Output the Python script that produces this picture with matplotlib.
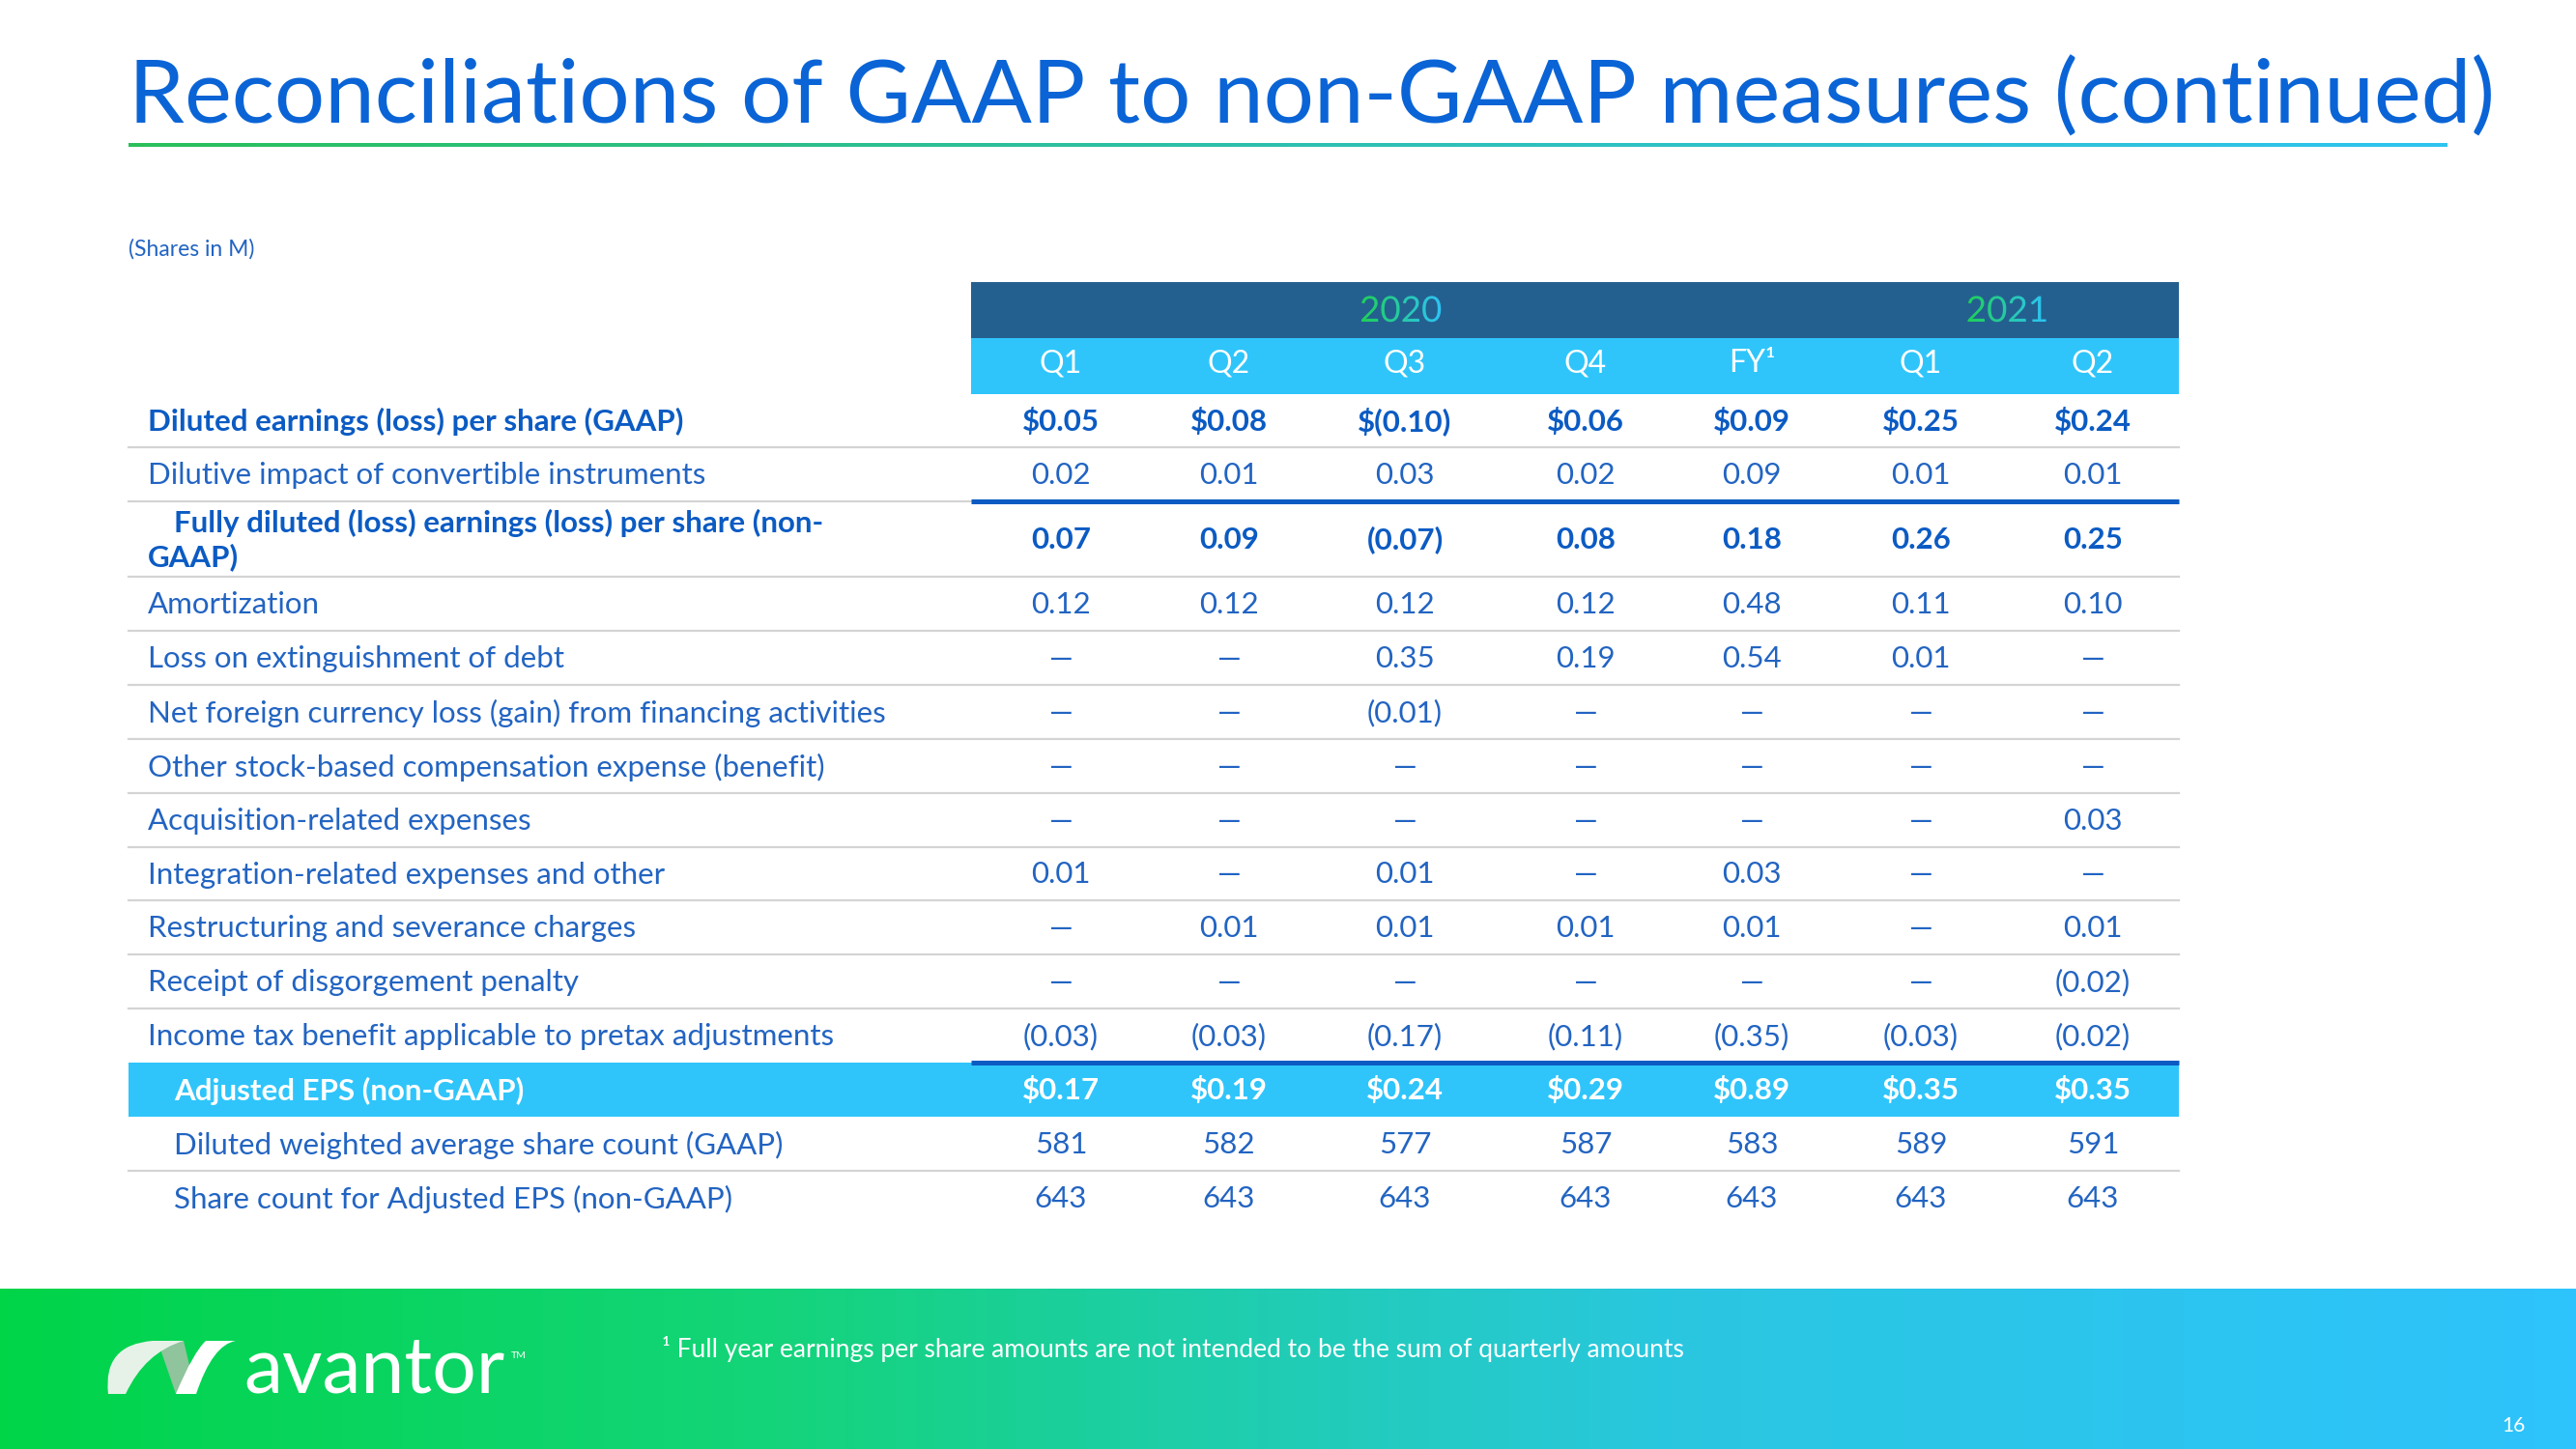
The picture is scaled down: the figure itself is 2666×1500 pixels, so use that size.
import matplotlib
matplotlib.use("Agg")
import matplotlib.pyplot as plt
import numpy as np
from matplotlib.colors import LinearSegmentedColormap
from matplotlib.textpath import TextPath
from matplotlib.font_manager import FontProperties
from matplotlib.patches import PathPatch, Rectangle
from matplotlib.transforms import Affine2D
from matplotlib.path import Path

plt.rcParams["font.family"] = ["Lato", "DejaVu Sans"]

# ---- slide text and table data ----
title = "Reconciliations of GAAP to non-GAAP measures (continued)"
units_note = "(Shares in M)"
years = ["2020", "2021"]
periods = ["Q1", "Q2", "Q3", "Q4", "FY¹", "Q1", "Q2"]
footnote = "¹ Full year earnings per share amounts are not intended to be the sum of quarterly amounts"
page_no = "16"

row_labels = [
    "Diluted earnings (loss) per share (GAAP)",
    "Dilutive impact of convertible instruments",
    "Fully diluted (loss) earnings (loss) per share (non-GAAP)",
    "Amortization",
    "Loss on extinguishment of debt",
    "Net foreign currency loss (gain) from financing activities",
    "Other stock-based compensation expense (benefit)",
    "Acquisition-related expenses",
    "Integration-related expenses and other",
    "Restructuring and severance charges",
    "Receipt of disgorgement penalty",
    "Income tax benefit applicable to pretax adjustments",
    "Adjusted EPS (non-GAAP)",
    "Diluted weighted average share count (GAAP)",
    "Share count for Adjusted EPS (non-GAAP)",
]

gaap_eps = ["$0.05", "$0.08", "$(0.10)", "$0.06", "$0.09", "$0.25", "$0.24"]
dilutive_impact = ["0.02", "0.01", "0.03", "0.02", "0.09", "0.01", "0.01"]
fully_diluted = ["0.07", "0.09", "(0.07)", "0.08", "0.18", "0.26", "0.25"]
amortization = ["0.12", "0.12", "0.12", "0.12", "0.48", "0.11", "0.10"]
debt_loss = ["—", "—", "0.35", "0.19", "0.54", "0.01", "—"]
fx_loss = ["—", "—", "(0.01)", "—", "—", "—", "—"]
stock_comp = ["—", "—", "—", "—", "—", "—", "—"]
acquisition = ["—", "—", "—", "—", "—", "—", "0.03"]
integration = ["0.01", "—", "0.01", "—", "0.03", "—", "—"]
restructuring = ["—", "0.01", "0.01", "0.01", "0.01", "—", "0.01"]
disgorgement = ["—", "—", "—", "—", "—", "—", "(0.02)"]
income_tax = ["(0.03)", "(0.03)", "(0.17)", "(0.11)", "(0.35)", "(0.03)", "(0.02)"]
adjusted_eps = ["$0.17", "$0.19", "$0.24", "$0.29", "$0.89", "$0.35", "$0.35"]
diluted_shares = ["581", "582", "577", "587", "583", "589", "591"]
adjusted_shares = ["643", "643", "643", "643", "643", "643", "643"]

table_values = [gaap_eps, dilutive_impact, fully_diluted, amortization, debt_loss,
                fx_loss, stock_comp, acquisition, integration, restructuring,
                disgorgement, income_tax, adjusted_eps, diluted_shares, adjusted_shares]
bold_rows = {0, 2, 12}

# ---- colours ----
TITLE_BLUE = "#0a64d6"
TEXT_BLUE = "#2264c2"
BOLD_BLUE = "#0b5bc3"
DARK_HEAD = "#24608f"
LIGHT_HEAD = "#2fc5fb"
GRID = "#d4d4d4"
FS = 22.5

W, H = 2666, 1500
fig = plt.figure(figsize=(W / 100, H / 100), dpi=100)
ax = fig.add_axes([0, 0, 1, 1])
ax.set_xlim(0, W)
ax.set_ylim(H, 0)
ax.axis("off")

# title + gradient rule
ax.text(133, 128, title, fontsize=66.5, color=TITLE_BLUE, va="baseline", ha="left")
rule = LinearSegmentedColormap.from_list("rule", ["#2bbf5a", "#2ec0b0", "#2ec4f0"])
ax.imshow(np.linspace(0, 1, 256)[None, :], cmap=rule, aspect="auto",
          extent=(133, 2533, 152, 148), zorder=2)
ax.text(133, 258, units_note, fontsize=16.5, color=TEXT_BLUE, va="center")

# table geometry
x_left, x_tab, x_right = 133, 1005, 2255
col_x = [1098, 1272, 1454, 1641, 1813, 1988, 2166]
bounds = [408, 463, 519, 597, 653, 709, 765, 821, 877, 932, 988, 1044, 1100, 1156, 1212, 1268]

# header bands
ax.add_patch(Rectangle((x_tab, 292), x_right - x_tab, 58, color=DARK_HEAD, lw=0))
ax.add_patch(Rectangle((x_tab, 350), x_right - x_tab, 58, color=LIGHT_HEAD, lw=0))

# years with gradient fill
year_cmap = LinearSegmentedColormap.from_list("yr", ["#1fd05a", "#2ec4f5"])
fp = FontProperties(family="Lato", size=26.5)
for yr, xc in zip(years, [1450, 2077]):
    tp = TextPath((0, 0), yr, prop=fp)
    bb = tp.get_extents()
    s = 100 / 72
    tr = Affine2D().translate(-bb.width / 2 - bb.x0, 0).scale(s, -s).translate(xc, 333) + ax.transData
    patch = PathPatch(tp, transform=tr, facecolor="none", edgecolor="none")
    ax.add_patch(patch)
    wpx = bb.width * s
    im = ax.imshow(np.linspace(0, 1, 64)[None, :], cmap=year_cmap, aspect="auto",
                   extent=(xc - wpx / 2, xc + wpx / 2, 336, 333 - bb.height * s - 4), zorder=3)
    im.set_clip_path(patch)

for p, xc in zip(periods, col_x):
    ax.text(xc, 376, p, fontsize=23, color="white", ha="center", va="center")

# highlight row
ax.add_patch(Rectangle((x_left, 1100), x_right - x_left, 56, color=LIGHT_HEAD, lw=0))

# rules between rows
for yb in bounds[1:-1]:
    if yb in (519, 1100):
        if yb == 519:
            ax.plot([x_left, x_tab], [yb, yb], color=GRID, lw=1.6)
        ax.plot([x_tab, x_right], [yb, yb], color=BOLD_BLUE, lw=3.6, solid_capstyle="butt", zorder=4)
    elif yb == 1156:
        continue
    else:
        ax.plot([x_left, x_right], [yb, yb], color=GRID, lw=1.6)

# rows
for r, (lab, vals) in enumerate(zip(row_labels, table_values)):
    yc = (bounds[r] + bounds[r + 1]) / 2 + 1
    if r == 12:
        color, weight = "white", "bold"
    elif r in bold_rows:
        color, weight = BOLD_BLUE, "bold"
    else:
        color, weight = TEXT_BLUE, "normal"
    if r == 2:
        ax.text(180, 541, "Fully diluted (loss) earnings (loss) per share (non-",
                fontsize=FS, color=color, weight=weight, va="center")
        ax.text(153, 577, "GAAP)", fontsize=FS, color=color, weight=weight, va="center")
    else:
        lx = 180 if r >= 12 else 153
        ax.text(lx, yc, lab, fontsize=FS, color=color, weight=weight, va="center")
    for v, xc in zip(vals, col_x):
        ax.text(xc, yc, v, fontsize=FS, color=color, weight=weight, ha="center", va="center")

# footer band
foot = LinearSegmentedColormap.from_list(
    "foot", [(0, "#00d548"), (0.3, "#14d47a"), (0.65, "#2ac7e0"), (1, "#2ec3fc")])
ax.imshow(np.linspace(0, 1, 512)[None, :], cmap=foot, aspect="auto",
          extent=(0, W, H, 1334), zorder=1)

# logo mark: three ribbon pieces
C3, L2, MV = Path.CURVE3, Path.LINETO, Path.MOVETO
left_piece = Path([(112, 1443), (106, 1392), (158, 1388), (190, 1388),
                   (150, 1400), (130, 1443), (112, 1443)],
                  [MV, C3, C3, L2, C3, C3, Path.CLOSEPOLY])
mid_piece = Path([(163, 1388), (190, 1388), (203, 1443), (182, 1443), (163, 1388)],
                 [MV, L2, L2, L2, Path.CLOSEPOLY])
right_piece = Path([(182, 1443), (203, 1443), (220, 1392), (244, 1388),
                    (213, 1388), (200, 1400), (182, 1443)],
                   [MV, L2, C3, C3, L2, C3, C3])
ax.add_patch(PathPatch(mid_piece, facecolor="#8fc49c", edgecolor="none", zorder=5))
ax.add_patch(PathPatch(left_piece, facecolor="#e6f2e8", edgecolor="none", zorder=6))
ax.add_patch(PathPatch(right_piece, facecolor="#ffffff", edgecolor="none", zorder=6))

ax.text(252, 1442, "avantor", fontsize=58, color="white", va="baseline", ha="left")
ax.text(529, 1404, "TM", fontsize=7.5, color="white", va="center", ha="left")
ax.text(685, 1396, footnote, fontsize=19, color="white", va="center", ha="left")
ax.text(2601, 1476, page_no, fontsize=15, color="white", va="center", ha="center")

fig.savefig("out.png", dpi=100)
